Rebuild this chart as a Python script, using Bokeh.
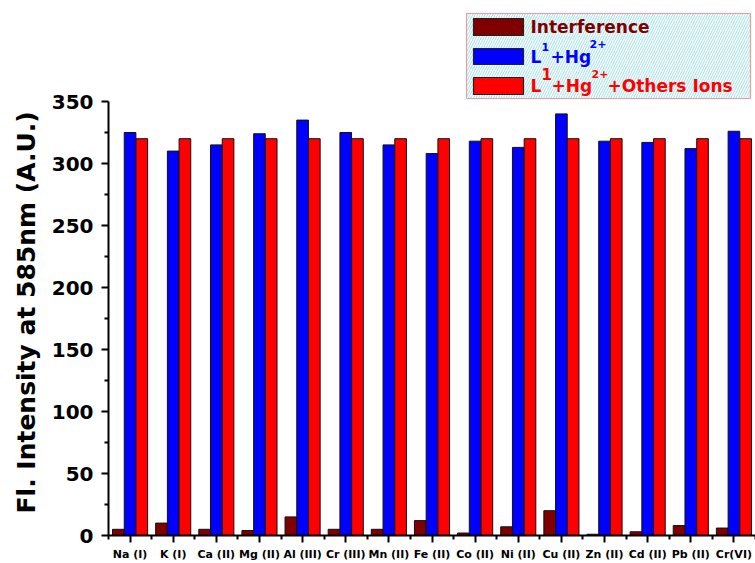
from bokeh.plotting import figure
from bokeh.models import ColumnDataSource, Range1d, FixedTicker, Title
from bokeh.transform import dodge
from bokeh.core.properties import value
from bokeh.embed import file_html
from bokeh.resources import INLINE

# Metal ions tested and the emission intensity at 585 nm (A.U.)
ions = ["Na (I)", "K (I)", "Ca (II)", "Mg (II)", "Al (III)", "Cr (III)", "Mn (II)",
        "Fe (II)", "Co (II)", "Ni (II)", "Cu (II)", "Zn (II)", "Cd (II)", "Pb (II)", "Cr(VI)"]
interference = [5, 10, 5, 4, 15, 5, 5, 12, 2, 7, 20, 1, 3, 8, 6]
l1_hg = [325, 310, 315, 324, 335, 325, 315, 308, 318, 313, 340, 318, 317, 312, 326]
l1_hg_others = [320, 320, 320, 320, 320, 320, 320, 320, 320, 320, 320, 320, 320, 320, 320]
y_ticks = [0, 50, 100, 150, 200, 250, 300, 350]
y_minor = [25, 75, 125, 175, 225, 275, 325]

MAROON, BLUE, RED = "#800000", "#0000ff", "#ff0000"
FONT = "DejaVu Sans"

W, H = 755, 563
FRAME_L, FRAME_R, FRAME_B = 108, 755, 535
X0, X1 = -0.5, len(ions) - 0.5
Y_TOP = 350 * FRAME_B / 434.0   # headroom above the axis for the key box

src = ColumnDataSource(dict(
    idx=list(range(len(ions))),
    interference=interference,
    l1_hg=l1_hg,
    l1_hg_others=l1_hg_others,
))

p = figure(width=W, height=H, x_range=Range1d(X0, X1), y_range=Range1d(0, Y_TOP),
           min_border_left=FRAME_L, min_border_right=0, min_border_top=0,
           min_border_bottom=H - FRAME_B, output_backend="svg", toolbar_location=None)
p.outline_line_color = None
p.xgrid.grid_line_color = None
p.ygrid.grid_line_color = None
p.background_fill_color = "white"
p.border_fill_color = "white"

BW, OFF = 0.27, 0.272
bar_style = dict(line_color="#111111", line_width=1)
p.vbar(x=dodge("idx", -OFF, range=p.x_range), top="interference", width=BW, bottom=0,
       fill_color=MAROON, source=src, **bar_style)
p.vbar(x=dodge("idx", 0, range=p.x_range), top="l1_hg", width=BW, bottom=0,
       fill_color=BLUE, source=src, **bar_style)
p.vbar(x=dodge("idx", OFF, range=p.x_range), top="l1_hg_others", width=BW, bottom=0,
       fill_color=RED, source=src, **bar_style)

# x axis: one major tick per ion, minor ticks between groups
xa = p.xaxis[0]
xa.ticker = FixedTicker(ticks=list(range(len(ions))),
                        minor_ticks=[i - 0.5 for i in range(len(ions) + 1)])
xa.major_label_overrides = {i: name for i, name in enumerate(ions)}
xa.major_label_text_font = FONT
xa.major_label_text_font_style = "bold"
xa.major_label_text_font_size = "11px"
xa.major_label_text_color = "black"
xa.major_label_standoff = 5
xa.axis_line_width = 2
xa.axis_line_color = "black"
xa.major_tick_in = 0
xa.major_tick_out = 7
xa.major_tick_line_width = 2
xa.minor_tick_in = 0
xa.minor_tick_out = 4
xa.minor_tick_line_width = 2

ya = p.yaxis[0]
ya.ticker = FixedTicker(ticks=y_ticks, minor_ticks=y_minor)
ya.bounds = (0, 350)
ya.major_label_text_font = FONT
ya.major_label_text_font_style = "bold"
ya.major_label_text_font_size = "20px"
ya.major_label_text_color = "black"
ya.major_label_standoff = 8
ya.axis_line_width = 2
ya.axis_line_color = "black"
ya.major_tick_in = 0
ya.major_tick_out = 7
ya.major_tick_line_width = 2
ya.minor_tick_in = 0
ya.minor_tick_out = 4
ya.minor_tick_line_width = 2

# y axis title, started a little above the frame bottom so it spans the 0-350 axis
p.add_layout(Title(text="Fl. Intensity at 585nm (A.U.)", text_font=FONT,
                   text_font_style="bold", text_font_size="25px", text_color="black",
                   align="left", offset=22, standoff=15), "left")


# key box, laid out in canvas pixels
def sx(px):
    return X0 + (px - FRAME_L) * (X1 - X0) / (FRAME_R - FRAME_L)


def sy(py):
    return (FRAME_B - py) * Y_TOP / FRAME_B


p.quad(left=[sx(466)], right=[sx(750)], top=[sy(13)], bottom=[sy(98)],
       fill_color="white", hatch_pattern="/", hatch_color="#aee6ec", hatch_scale=5,
       hatch_weight=1.1, line_color="#f09a9a", line_width=1.2)

for (top, bot, col) in [(18, 35, MAROON), (48, 64, BLUE), (77, 94, RED)]:
    p.quad(left=[sx(473)], right=[sx(523)], top=[sy(top)], bottom=[sy(bot)],
           fill_color=col, line_color="#222222", line_width=1.2)


def key_text(px, py, txt, size, color):
    p.text(x=[sx(px)], y=[sy(py)], text=[txt], text_font=value(FONT),
           text_font_style="bold", text_font_size=size, text_color=color,
           text_align="left", text_baseline="alphabetic")


key_text(530, 26, "Interference", "17px", MAROON)

key_text(530, 56, "L", "17px", BLUE)
key_text(541, 46, "1", "11px", BLUE)
key_text(550, 56, "+Hg", "17px", BLUE)
key_text(589, 43, "2+", "11px", BLUE)

key_text(530, 85, "L", "17px", RED)
key_text(541, 73, "1", "15px", RED)
key_text(551, 85, "+Hg", "17px", RED)
key_text(591, 73, "2+", "11px", RED)
key_text(607, 85, "+Others Ions", "17px", RED)

open("out.html", "w").write(file_html(p, INLINE))
